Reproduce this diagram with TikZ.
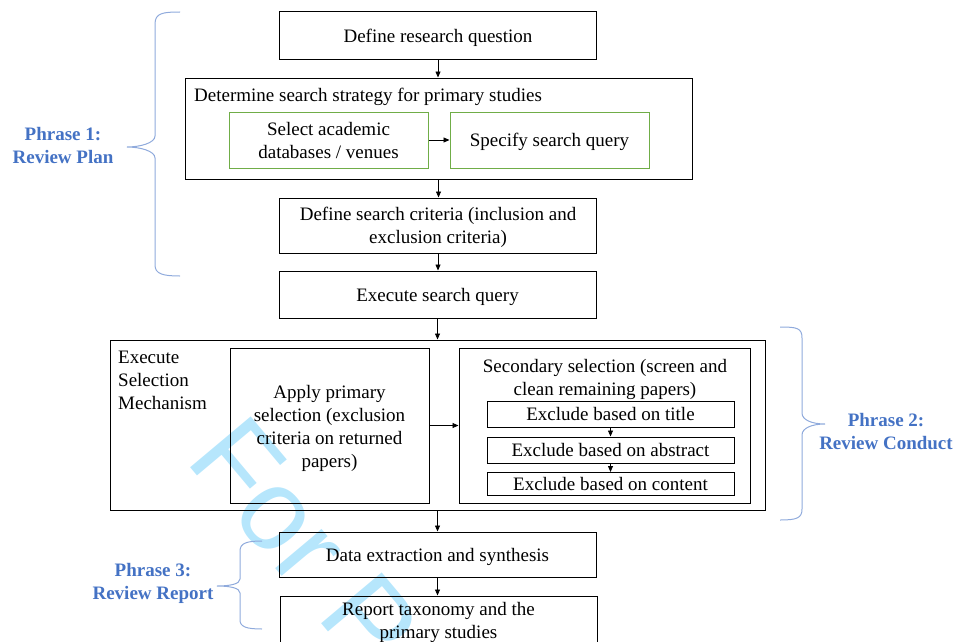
\documentclass[tikz,border=0pt]{standalone}
\usepackage{fontspec}
\setmainfont{Liberation Serif}
\newfontfamily\wmfont{Liberation Sans}
\usetikzlibrary{arrows.meta}

\definecolor{phraseblue}{RGB}{68,114,196}
\definecolor{bracecol}{RGB}{143,170,220}
\definecolor{greenedge}{RGB}{112,173,71}
\definecolor{wmcol}{RGB}{182,230,252}

% fixed line height and depth, so every text is centred on its cap height
\newcommand\boxstrut{\rule[-5pt]{0pt}{23pt}}

\begin{document}
\begin{tikzpicture}[x=1pt,y=-1pt,
  font=\fontsize{19}{23}\selectfont,
  txt/.style={inner sep=0pt},
  box/.style={txt, draw=black, line width=1pt, align=center},
  gbox/.style={txt, draw=greenedge, line width=1pt, align=center},
  flow/.style={line width=0.8pt, -{Triangle[length=6pt,width=5pt]}},
  brace/.style={draw=bracecol, line width=1pt},
  phrase/.style={txt, text=phraseblue, font=\fontsize{19}{23}\selectfont\bfseries, align=center},
  plain/.style={txt, align=left}]

\useasboundingbox (0,0) rectangle (955,642);
\clip (0,0) rectangle (955,642);

% background watermark
\node[font=\wmfont\fontsize{115}{115}\selectfont, text=wmcol, rotate=-50,
      anchor=base west, inner sep=0pt] (wm) at (184,460) {For P};

% review plan
\node[box, minimum width=317pt, minimum height=48pt] (q) at (438,36) {\boxstrut Define research question\boxstrut};
\node[box, minimum width=507pt, minimum height=101pt] (strat) at (438.5,128.5) {};
\node[plain, anchor=west] (strattitle) at (194,95) {\boxstrut Determine search strategy for primary studies\boxstrut};
\node[gbox, minimum width=199pt, minimum height=56pt] (db) at (328.5,140) {\boxstrut Select academic\\databases / venues\boxstrut};
\node[gbox, minimum width=199pt, minimum height=56pt] (sq) at (549.5,140) {\boxstrut Specify search query\boxstrut};
\node[box, minimum width=317pt, minimum height=55pt] (crit) at (438,225.5) {\boxstrut Define search criteria (inclusion and\\exclusion criteria)\boxstrut};
\node[box, minimum width=317pt, minimum height=47pt] (exec) at (437.5,294.5) {\boxstrut Execute search query\boxstrut};

% review conduct
\node[box, minimum width=655pt, minimum height=170pt] (sel) at (437.5,425) {};
\node[plain, anchor=north west] (seltitle) at (118,345.5) {\boxstrut Execute\\Selection\\Mechanism\boxstrut};
\node[box, minimum width=199pt, minimum height=155pt] (prim) at (329.5,426) {\boxstrut Apply primary\\selection (exclusion\\criteria on returned\\papers)\boxstrut};
\node[box, minimum width=291pt, minimum height=155pt] (sec) at (604.5,425.5) {};
\node[txt, align=center] (sectitle) at (605,377.5) {\boxstrut Secondary selection (screen and\\clean remaining papers)\boxstrut};
\node[box, minimum width=247pt, minimum height=26pt] (ext) at (610.5,414) {\boxstrut Exclude based on title\boxstrut};
\node[box, minimum width=247pt, minimum height=26pt] (exa) at (610.5,450) {\boxstrut Exclude based on abstract\boxstrut};
\node[box, minimum width=247pt, minimum height=22pt] (exc) at (610.5,484) {\boxstrut Exclude based on content\boxstrut};

% review report
\node[box, minimum width=317pt, minimum height=45pt] (data) at (437.5,554.5) {\boxstrut Data extraction and synthesis\boxstrut};
\node[box, minimum width=317pt, minimum height=49pt] (rep) at (438.5,620.5) {\boxstrut Report taxonomy and the\\primary studies\boxstrut};

% connectors
\draw[flow] (q.south) -- (q.south |- strat.north);
\draw[flow] (db.east) -- (sq.west);
\draw[flow] (strat.south) -- (strat.south |- crit.north);
\draw[flow] (crit.south) -- (crit.south |- exec.north);
\draw[flow] (exec.south) -- (exec.south |- sel.north);
\draw[flow] (prim.east |- sec.west) -- (sec.west);
\draw[flow] (ext.south) -- (exa.north);
\draw[flow] (exa.south) -- (exc.north);
\draw[flow] (sel.south) -- (sel.south |- data.north);
\draw[flow] (data.south) -- (data.south |- rep.north);

% phase braces
\draw[brace] (180,12) .. controls (163,12) and (155,13) .. (155,24) -- (155,136)
  .. controls (155,143) and (140,147) .. (127,147)
  .. controls (140,147) and (155,151) .. (155,158) -- (155,265)
  .. controls (155,274) and (163,276) .. (180,276);
\draw[brace] (780,327) .. controls (797,327) and (802,328) .. (802,338) -- (802,413)
  .. controls (802,420) and (812,424) .. (825,424)
  .. controls (812,424) and (802,428) .. (802,435) -- (802,509)
  .. controls (802,518) and (797,520) .. (780,520);
\draw[brace] (262,541) .. controls (247,541) and (240,543) .. (240,551) -- (240,579)
  .. controls (240,584) and (230,586) .. (217,586)
  .. controls (230,586) and (240,588) .. (240,593) -- (240,620)
  .. controls (240,627) and (247,629) .. (262,629);

% phase labels
\node[phrase] (p1) at (63,145) {\boxstrut Phrase 1:\\Review Plan\boxstrut};
\node[phrase] (p2) at (886,431.5) {\boxstrut Phrase 2:\\Review Conduct\boxstrut};
\node[phrase] (p3) at (153,581.5) {\boxstrut Phrase 3:\\Review Report\boxstrut};
\end{tikzpicture}
\end{document}
